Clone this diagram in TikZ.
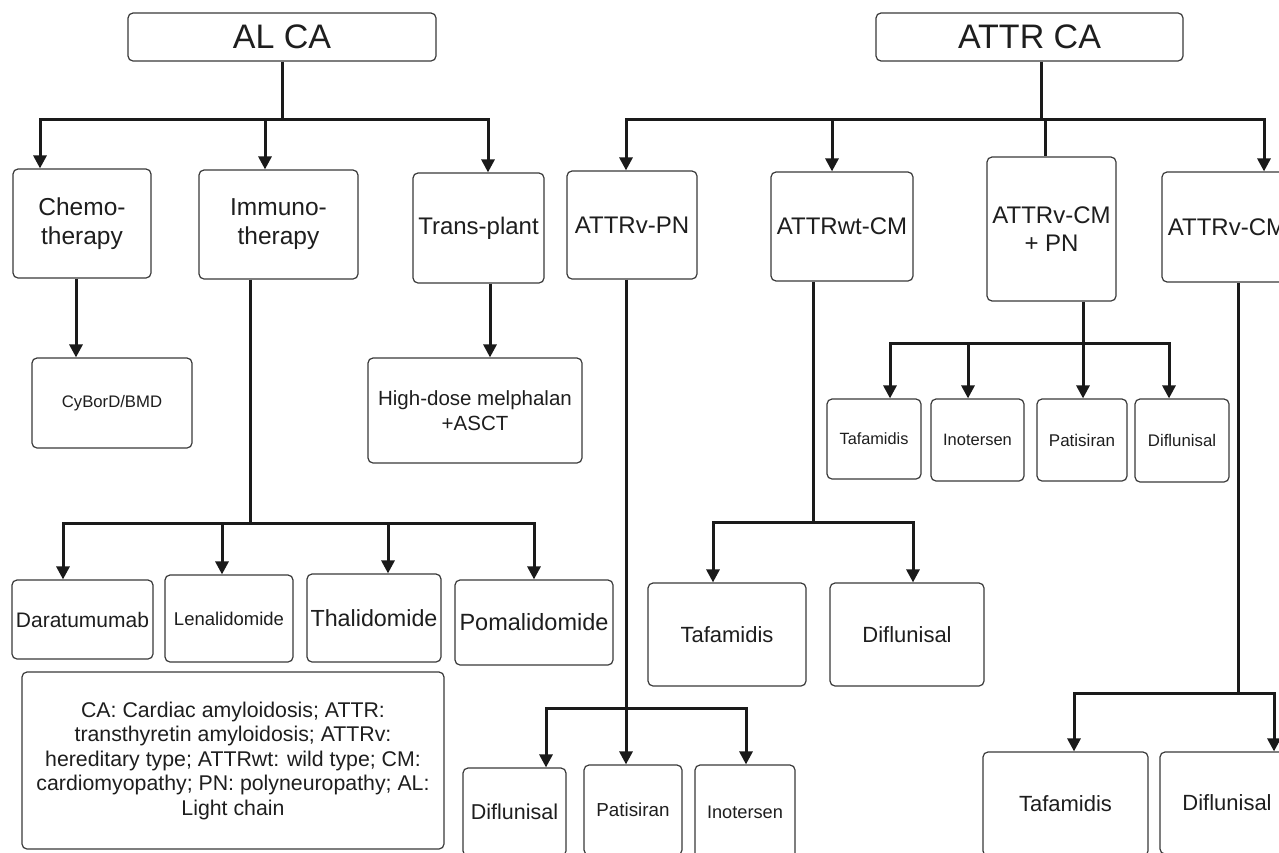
\documentclass[tikz,border=0pt]{standalone}
\usepackage{fontspec}
\setmainfont{Liberation Sans}
\usetikzlibrary{arrows.meta}
\definecolor{lineblk}{HTML}{1A1A1A}
\definecolor{boxgray}{HTML}{3A3A3A}
\definecolor{txt}{HTML}{1E1E1E}
\newcommand{\fs}[1]{\fontsize{#1}{1.2\dimexpr #1pt\relax}\selectfont}
\begin{document}
\begin{tikzpicture}[x=1pt,y=-1pt,
  box/.style={draw=boxgray, line width=1.2pt, rounded corners=5pt, inner sep=0pt, align=center, text=txt},
  conn/.style={line width=3pt, draw=lineblk, line join=miter},
  arr/.style={conn, -{Triangle[width=13pt,length=13pt]}}]
\useasboundingbox (0,0) rectangle (1279,852);
\fill[white] (0,0) rectangle (1279,852);
\clip (0,0) rectangle (1279,852);

% top level
\node[box, minimum width=308pt, minimum height=48pt, font=\fs{34}] (alca) at (282,37) {AL CA};
\node[box, minimum width=307pt, minimum height=48pt, font=\fs{34}] (attrca) at (1029.5,37) {ATTR CA};

% AL CA children
\node[box, minimum width=138pt, minimum height=109pt, font={\fontsize{24.5}{29}\selectfont}] (chemo) at (82,223.5) {Chemo-\\therapy};
\node[box, minimum width=159pt, minimum height=109pt, font={\fontsize{24.5}{29}\selectfont}] (immuno) at (278.5,224.5) {Immuno-\\therapy};
\node[box, minimum width=131pt, minimum height=110pt, font=\fs{24}] (transplant) at (478.5,228) {Trans-plant};

% ATTR CA children
\node[box, minimum width=130pt, minimum height=108pt, font=\fs{24}] (attrvpn) at (632,225) {ATTRv-PN};
\node[box, minimum width=142pt, minimum height=109pt, font=\fs{24}] (attrwt) at (842,226.5) {ATTRwt-CM};
\node[box, minimum width=129pt, minimum height=144pt, font={\fontsize{24}{28}\selectfont}] (attrvcmpn) at (1051.5,229) {ATTRv-CM\\+ PN};
\node[box, minimum width=130pt, minimum height=110pt, font=\fs{24}] (attrvcm) at (1227,227) {ATTRv-CM};

% AL CA grandchildren
\node[box, minimum width=160pt, minimum height=90pt, font=\fs{16.7}] (cybord) at (112,403) {CyBorD/BMD};
\node[box, minimum width=214pt, minimum height=105pt, font={\fontsize{20.5}{25}\selectfont}] (highdose) at (475,410.5) {High-dose melphalan\\+ASCT};
\node[box, minimum width=141pt, minimum height=79pt, font=\fs{21}] (dara) at (82.5,619.5) {Daratumumab};
\node[box, minimum width=128pt, minimum height=87pt, font=\fs{18.5}] (lena) at (229,618.5) {Lenalidomide};
\node[box, minimum width=134pt, minimum height=88pt, font=\fs{23.3}] (thal) at (374,618) {Thalidomide};
\node[box, minimum width=158pt, minimum height=85pt, font=\fs{23.5}] (poma) at (534,622.5) {Pomalidomide};

% legend
\node[box, minimum width=422pt, minimum height=177pt, font={\fontsize{21.3}{24.5}\selectfont}] (legend) at (233,760.5)
  {CA: Cardiac amyloidosis; ATTR:\\transthyretin amyloidosis; ATTRv:\\hereditary type; ATTRwt: wild type; CM:\\cardiomyopathy; PN: polyneuropathy; AL:\\Light chain};

% ATTRv-PN grandchildren
\node[box, minimum width=103pt, minimum height=88pt, font=\fs{21.5}] (pndif) at (514.5,812) {Diflunisal};
\node[box, minimum width=98pt, minimum height=90pt, font=\fs{18.8}] (pnpat) at (633,810) {Patisiran};
\node[box, minimum width=100pt, minimum height=94pt, font=\fs{18.2}] (pnino) at (745,812) {Inotersen};

% ATTRwt-CM grandchildren
\node[box, minimum width=158pt, minimum height=103pt, font=\fs{22}] (wttaf) at (727,634.5) {Tafamidis};
\node[box, minimum width=154pt, minimum height=103pt, font=\fs{22}] (wtdif) at (907,634.5) {Diflunisal};

% ATTRv-CM + PN grandchildren
\node[box, minimum width=94pt, minimum height=80pt, font=\fs{16.3}] (cptaf) at (874,439) {Tafamidis};
\node[box, minimum width=93pt, minimum height=82pt, font=\fs{16.5}] (cpino) at (977.5,440) {Inotersen};
\node[box, minimum width=90pt, minimum height=82pt, font=\fs{17}] (cppat) at (1082,440) {Patisiran};
\node[box, minimum width=94pt, minimum height=83pt, font=\fs{16.8}] (cpdif) at (1182,440.5) {Diflunisal};

% ATTRv-CM grandchildren
\node[box, minimum width=165pt, minimum height=104pt, font=\fs{22}] (cmtaf) at (1065.5,804) {Tafamidis};
\node[box, minimum width=134pt, minimum height=102pt, font=\fs{22}] (cmdif) at (1227,803) {Diflunisal};

% ---------- connectors ----------
% AL CA
\coordinate (alj) at (282,119);
\coordinate (alL) at (40,119);
\coordinate (alM) at (265,119);
\coordinate (alR) at (488,119);
\draw[conn] (alca.south) -- (alj);
\draw[arr] (alj) -- (alL) -- (alL |- chemo.north);
\draw[arr] (alj) -- (alR) -- (alR |- transplant.north);
\draw[arr] (alM) -- (alM |- immuno.north);

% ATTR CA
\coordinate (atj) at (1041,119);
\coordinate (atL) at (626,119);
\coordinate (atM1) at (832,119);
\coordinate (atM2) at (1045,119);
\coordinate (atR) at (1264,119);
\draw[conn] (attrca.south -| atj) -- (atj);
\draw[arr] (atj) -- (atL) -- (atL |- attrvpn.north);
\draw[arr] (atj) -- (atR) -- (atR |- attrvcm.north);
\draw[arr] (atM1) -- (atM1 |- attrwt.north);
\draw[conn] (atM2) -- (atM2 |- attrvcmpn.north);

% Chemo -> CyBorD
\coordinate (ch) at (76,0);
\draw[arr] (chemo.south -| ch) -- (cybord.north -| ch);
% Transplant -> high dose
\coordinate (tp) at (490,0);
\draw[arr] (transplant.south -| tp) -- (highdose.north -| tp);

% Immuno -> four drugs
\coordinate (imj) at (250,523);
\coordinate (imL) at (63,523);
\coordinate (imM1) at (222,523);
\coordinate (imM2) at (388,523);
\coordinate (imR) at (534,523);
\draw[conn] (immuno.south -| imj) -- (imj);
\draw[arr] (imj) -- (imL) -- (imL |- dara.north);
\draw[arr] (imj) -- (imR) -- (imR |- poma.north);
\draw[arr] (imM1) -- (imM1 |- lena.north);
\draw[arr] (imM2) -- (imM2 |- thal.north);

% ATTRv-PN -> three drugs
\coordinate (pnj) at (626,708);
\coordinate (pnL) at (546,708);
\coordinate (pnR) at (746,708);
\draw[arr] (attrvpn.south -| pnj) -- (pnpat.north -| pnj);
\draw[arr] (pnj) -- (pnL) -- (pnL |- pndif.north);
\draw[arr] (pnj) -- (pnR) -- (pnR |- pnino.north);

% ATTRwt-CM -> two drugs
\coordinate (wtj) at (813,522);
\coordinate (wtL) at (713,522);
\coordinate (wtR) at (913,522);
\draw[conn] (attrwt.south -| wtj) -- (wtj);
\draw[arr] (wtj) -- (wtL) -- (wtL |- wttaf.north);
\draw[arr] (wtj) -- (wtR) -- (wtR |- wtdif.north);

% ATTRv-CM + PN -> four drugs
\coordinate (cpj) at (1083,343);
\coordinate (cpL) at (890,343);
\coordinate (cpM) at (968,343);
\coordinate (cpR) at (1169,343);
\draw[arr] (attrvcmpn.south -| cpj) -- (cppat.north -| cpj);
\draw[arr] (cpj) -- (cpL) -- (cpL |- cptaf.north);
\draw[arr] (cpj) -- (cpR) -- (cpR |- cpdif.north);
\draw[arr] (cpM) -- (cpM |- cpino.north);

% ATTRv-CM -> two drugs
\coordinate (cmj) at (1238,693);
\coordinate (cmL) at (1074,693);
\coordinate (cmR) at (1274,693);
\draw[conn] (attrvcm.south -| cmj) -- (cmj);
\draw[arr] (cmj) -- (cmL) -- (cmL |- cmtaf.north);
\draw[arr] (cmj) -- (cmR) -- (cmR |- cmdif.north);
\end{tikzpicture}
\end{document}
